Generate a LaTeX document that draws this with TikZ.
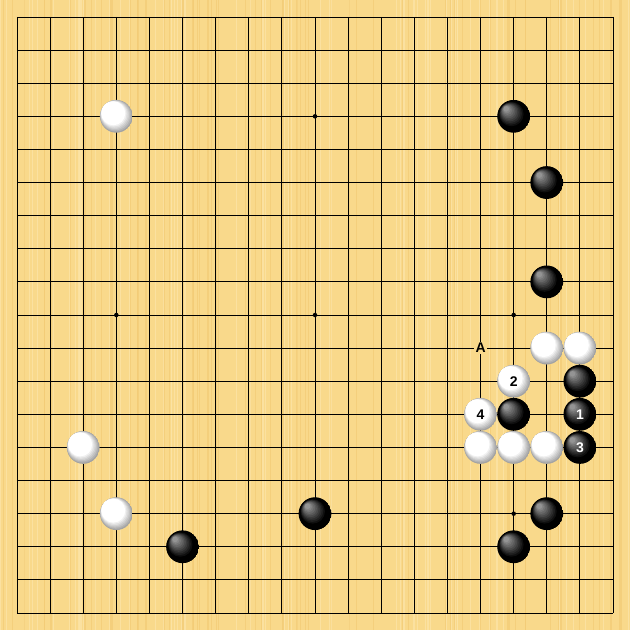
\documentclass[tikz,border=0pt]{standalone}
\usepackage{fontspec}
\setmainfont{Liberation Sans}
\definecolor{board}{HTML}{F9D98B}
\definecolor{stripeD}{HTML}{F3CC76}
\definecolor{stripeL}{HTML}{FCE4A6}
\tikzset{
  gridline/.style={line width=0.8pt, black},
  starpt/.style={circle, fill=black, inner sep=0pt, minimum size=4.5pt},
  whitelayers/.style={path picture={
    \foreach \k in {0,...,13}{
      \pgfmathsetmacro\p{min(100,64+6*\k)}
      \pgfmathsetmacro\o{0.4*16.4*\k/13}
      \pgfmathsetmacro\rr{16.4*(1-0.045*\k)}
      \fill[white!\p!black] ([xshift=-\o pt, yshift=\o pt]path picture bounding box.center) circle[radius=\rr pt];
    }}},
  blacklayers/.style={path picture={
    \foreach \k in {0,...,13}{
      \pgfmathsetmacro\p{100-max(0,(\k-3)*5.8)}
      \pgfmathsetmacro\o{0.45*16.4*\k/13}
      \pgfmathsetmacro\rr{16.4*(1-0.064*\k)}
      \fill[black!\p!white] ([xshift=-\o pt, yshift=\o pt]path picture bounding box.center) circle[radius=\rr pt];
    }}},
  bstone/.style={circle, inner sep=0pt, minimum size=32.8pt, blacklayers, text=white, font=\bfseries\fontsize{14}{14}\selectfont},
  wstone/.style={circle, inner sep=0pt, minimum size=32.8pt, whitelayers, text=black, font=\bfseries\fontsize{14}{14}\selectfont},
  marklabel/.style={fill=board, inner sep=1.5pt, text=black, font=\bfseries\fontsize{14}{14}\selectfont}
}
\begin{document}
\begin{tikzpicture}[x=33.111pt, y=-33.111pt]
\useasboundingbox (-0.5134,-0.5134) rectangle (18.5134,18.5134);
\fill[board] (-0.5134,-0.5134) rectangle (18.5134,18.5134);
\pgfmathsetseed{7}
\foreach \i in {1,...,140}{
  \pgfmathsetmacro\xx{-0.5+19*rnd}
  \pgfmathsetmacro\ww{0.3+1.2*rnd}
  \pgfmathsetmacro\cc{rnd}
  \ifdim\cc pt<0.5pt
    \draw[stripeD, line width=\ww pt, opacity=0.7] (\xx,-0.5134) -- (\xx,18.5134);
  \else
    \draw[stripeL, line width=\ww pt, opacity=0.8] (\xx,-0.5134) -- (\xx,18.5134);
  \fi
}
\foreach \k in {0,...,18}{
  \draw[gridline] (\k,0) -- (\k,18);
  \draw[gridline] (0,\k) -- (18,\k);
}
\foreach \a/\b [count=\n] in {3/3,9/3,15/3,3/9,9/9,15/9,3/15,9/15,15/15}
  \node[starpt] (star\n) at (\a,\b) {};
% label A
\node[marklabel] (markA) at (14,10) {A};
% white stones
\node[wstone] (w1) at (3,3) {};
\node[wstone] (w2) at (16,10) {};
\node[wstone] (w3) at (17,10) {};
\node[wstone] (w4) at (15,11) {2};
\node[wstone] (w5) at (14,12) {4};
\node[wstone] (w6) at (14,13) {};
\node[wstone] (w7) at (15,13) {};
\node[wstone] (w8) at (16,13) {};
\node[wstone] (w9) at (2,13) {};
\node[wstone] (w10) at (3,15) {};
% black stones
\node[bstone] (b1) at (15,3) {};
\node[bstone] (b2) at (16,5) {};
\node[bstone] (b3) at (16,8) {};
\node[bstone] (b4) at (17,11) {};
\node[bstone] (b5) at (15,12) {};
\node[bstone] (b6) at (17,12) {1};
\node[bstone] (b7) at (17,13) {3};
\node[bstone] (b8) at (9,15) {};
\node[bstone] (b9) at (16,15) {};
\node[bstone] (b10) at (5,16) {};
\node[bstone] (b11) at (15,16) {};
\end{tikzpicture}
\end{document}
